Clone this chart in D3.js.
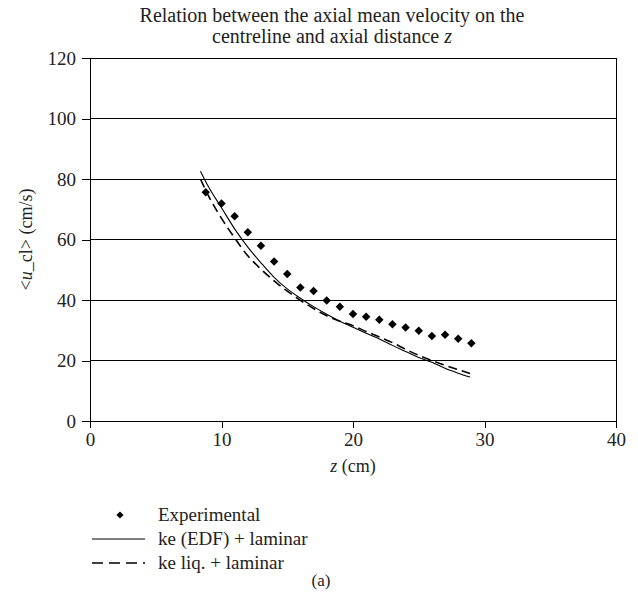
<!DOCTYPE html>
<html>
<head>
<meta charset="utf-8">
<script src="https://cdn.jsdelivr.net/npm/d3@7"></script>
<style>
  html, body { margin: 0; padding: 0; background: #fff; }
  svg { display: block; font-family: "Liberation Serif", "DejaVu Serif", serif; }
</style>
</head>
<body>
<svg id="chart" width="638" height="600"></svg>
<script>
// Experimental centreline velocity (cm/s) against axial distance z (cm)
const expZ = [8.8, 10, 11, 12, 13, 14, 15, 16, 17, 18, 19, 20, 21, 22, 23, 24, 25, 26, 27, 28, 29];
const expU = [75.6, 71.9, 67.7, 62.4, 57.9, 52.7, 48.6, 44.1, 43.0, 39.8, 37.8, 35.4, 34.5, 33.5, 32.0, 30.9, 29.8, 28.1, 28.5, 27.2, 25.7];

// Model curves
const edfZ = [8.4, 9, 10, 11, 12, 13, 14, 15, 16, 17, 18, 19, 20, 21, 22, 23, 24, 25, 26, 27, 28, 28.9];
const edfU = [82.6, 77.5, 70.5, 63.5, 57.5, 52.3, 47.5, 43.7, 40.6, 37.8, 35.3, 33.0, 31.0, 29.0, 27.1, 25.0, 23.0, 21.0, 19.4, 17.4, 15.8, 14.5];
const liqZ = [8.4, 9, 10, 11, 12, 13, 14, 15, 16, 17, 18, 19, 20, 21, 22, 23, 24, 25, 26, 27, 28, 28.9];
const liqU = [80.0, 74.5, 67.0, 60.5, 54.6, 50.2, 46.3, 42.9, 39.9, 37.2, 34.8, 33.0, 31.5, 29.6, 27.8, 25.9, 23.7, 21.7, 20.0, 18.4, 17.0, 15.7];

const xTicks = [0, 10, 20, 30, 40];
const yTicks = [0, 20, 40, 60, 80, 100, 120];
const legendLabels = ["Experimental", "ke (EDF) + laminar", "ke liq. + laminar"];

const svg = d3.select("#chart");
const plot = { left: 90, right: 616, top: 58, bottom: 421 };
const ink = "#222";

const x = d3.scaleLinear().domain([0, 40]).range([plot.left, plot.right]);
const y = d3.scaleLinear().domain([0, 120]).range([plot.bottom, plot.top]);

// Title
const title = svg.append("text")
  .attr("x", 332).attr("text-anchor", "middle")
  .attr("font-size", 20).attr("fill", ink);
title.append("tspan").attr("x", 332).attr("y", 22)
  .text("Relation between the axial mean velocity on the");
const t2 = title.append("tspan").attr("x", 332).attr("y", 43);
t2.append("tspan").text("centreline and axial distance ");
t2.append("tspan").attr("font-style", "italic").text("z");

// Horizontal gridlines
svg.append("g").selectAll("line").data(yTicks).join("line")
  .attr("x1", plot.left).attr("x2", plot.right)
  .attr("y1", d => y(d)).attr("y2", d => y(d))
  .attr("stroke", "#000").attr("stroke-width", 1)
  .attr("shape-rendering", "crispEdges");

// Right border
svg.append("line")
  .attr("x1", plot.right).attr("x2", plot.right).attr("y1", plot.top).attr("y2", plot.bottom)
  .attr("stroke", "#000").attr("shape-rendering", "crispEdges");

// Axes
const xAxis = svg.append("g").attr("transform", `translate(0,${plot.bottom})`)
  .call(d3.axisBottom(x).tickValues(xTicks).tickSize(7).tickPadding(5).tickFormat(d3.format("d")));
const yAxis = svg.append("g").attr("transform", `translate(${plot.left},0)`)
  .call(d3.axisLeft(y).tickValues(yTicks).tickSize(8).tickPadding(6).tickFormat(d3.format("d")));
[xAxis, yAxis].forEach(g => {
  g.select(".domain").attr("stroke", "#000").attr("shape-rendering", "crispEdges");
  g.selectAll(".tick line").attr("stroke", "#000").attr("shape-rendering", "crispEdges");
  g.selectAll("text").attr("font-family", "Liberation Serif, serif")
    .attr("font-size", 19).attr("fill", ink);
});

// Axis titles
const xl = svg.append("text").attr("x", (plot.left + plot.right) / 2).attr("y", 472)
  .attr("text-anchor", "middle").attr("font-size", 18).attr("fill", ink);
xl.append("tspan").attr("font-style", "italic").text("z");
xl.append("tspan").text(" (cm)");

const yl = svg.append("text")
  .attr("transform", `translate(32,${(plot.top + plot.bottom) / 2}) rotate(-90)`)
  .attr("text-anchor", "middle").attr("font-size", 18).attr("fill", ink);
yl.append("tspan").text("<");
yl.append("tspan").attr("font-style", "italic").text("u");
yl.append("tspan").text("_cl> (cm/s)");

// Model curves
const line = d3.line().x(d => x(d[0])).y(d => y(d[1])).curve(d3.curveMonotoneX);
svg.append("path").datum(d3.zip(edfZ, edfU)).attr("d", line)
  .attr("fill", "none").attr("stroke", "#000").attr("stroke-width", 1.1);
svg.append("path").datum(d3.zip(liqZ, liqU)).attr("d", line)
  .attr("fill", "none").attr("stroke", "#000").attr("stroke-width", 1.6)
  .attr("stroke-dasharray", "9,5");

// Experimental points
const diamond = d3.symbol().type(d3.symbolSquare).size(36);
svg.append("g").selectAll("path").data(d3.zip(expZ, expU)).join("path")
  .attr("d", diamond)
  .attr("transform", d => `translate(${x(d[0])},${y(d[1])}) rotate(45)`)
  .attr("fill", "#000");

// Legend
const lg = svg.append("g");
const ly = [515, 539, 563];
lg.append("path").attr("d", d3.symbol().type(d3.symbolSquare).size(26))
  .attr("transform", `translate(120,${ly[0]}) rotate(45)`).attr("fill", "#000");
lg.append("line").attr("x1", 92).attr("x2", 145).attr("y1", ly[1]).attr("y2", ly[1])
  .attr("stroke", "#000").attr("stroke-width", 1.1);
lg.append("line").attr("x1", 92).attr("x2", 145).attr("y1", ly[2]).attr("y2", ly[2])
  .attr("stroke", "#000").attr("stroke-width", 1.6).attr("stroke-dasharray", "11,6");
lg.selectAll("text.lab").data(legendLabels).join("text").attr("class", "lab")
  .attr("x", 158).attr("y", (d, i) => ly[i] + 6)
  .attr("font-size", 19).attr("fill", ink).text(d => d);

// Panel label
svg.append("text").attr("x", 321).attr("y", 586).attr("text-anchor", "middle")
  .attr("font-size", 17).attr("fill", ink).text("(a)");
</script>
</body>
</html>
